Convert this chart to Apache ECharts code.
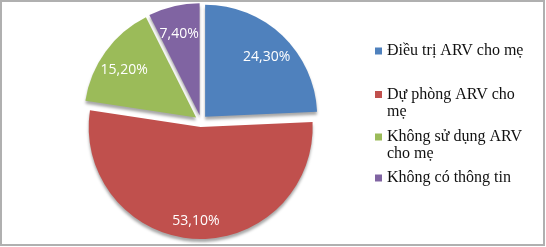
<!DOCTYPE html>
<html>
<head>
<meta charset="utf-8">
<script src="https://cdn.jsdelivr.net/npm/echarts@6/dist/echarts.min.js"></script>
<style>html,body{margin:0;padding:0;background:#fff}#c{width:546px;height:247px}</style>
</head>
<body>
<div id="c"></div>
<script>
const names = ['Điều trị ARV cho mẹ', 'Dự phòng ARV cho mẹ', 'Không sử dụng ARV cho mẹ', 'Không có thông tin'];
const values = [24.3, 53.1, 15.2, 7.4];
const colors = ['#4F81BD', '#C0504D', '#9BBB59', '#8064A2'];

const legendCenters = [51, 94.5, 137, 178];
const legendFont = 16, legendLine = 17, legendWrap = 147;

const ctx = document.createElement('canvas').getContext('2d');
ctx.font = legendFont + 'px "Liberation Serif"';
function wrap(text) {
  const words = text.split(' ');
  const lines = [];
  let cur = '';
  words.forEach(w => {
    const t = cur ? cur + ' ' + w : w;
    if (cur && ctx.measureText(t).width > legendWrap) { lines.push(cur); cur = w; }
    else cur = t;
  });
  lines.push(cur);
  return lines;
}

const chart = echarts.init(document.getElementById('c'), null, {renderer: 'canvas'});
const data = names.map((n, i) => ({name: n, value: values[i], selected: true}));

const legends = names.map((n, i) => {
  const lines = wrap(n);
  const h = 7 + (lines.length - 1) * legendLine;
  return {
    orient: 'vertical', left: 375, top: legendCenters[i] - legendLine / 2,
    padding: 0, itemWidth: 7, itemHeight: h, itemGap: 0, itemTextGap: 5,
    selectedMode: false,
    data: [{name: n, icon: 'path://M0,0H7V7H0Z M0,' + h}],
    formatter: () => lines.join('\n'),
    textStyle: {fontFamily: 'Liberation Serif', fontSize: legendFont, color: '#111', lineHeight: legendLine}
  };
});

const option = {
  animation: false,
  color: colors,
  graphic: [{
    type: 'rect', shape: {x: 1, y: 1, width: 543, height: 244},
    style: {fill: 'none', stroke: '#b0b0b0', lineWidth: 2}, silent: true
  }],
  legend: legends,
  series: [{
    type: 'pie', center: [201, 121], radius: 112, startAngle: 90, clockwise: true,
    selectedMode: 'multiple', selectedOffset: 6,
    label: {show: false}, labelLine: {show: false},
    itemStyle: {shadowColor: 'rgba(0,0,0,0.35)', shadowBlur: 3, shadowOffsetY: 3},
    emphasis: {disabled: true},
    data: data
  }, {
    type: 'pie', center: [201, 126], radius: [59, 113], startAngle: 90, clockwise: true,
    selectedMode: 'multiple', selectedOffset: 6, silent: true, legendHoverLink: false,
    itemStyle: {color: 'rgba(0,0,0,0)'},
    label: {
      show: true, position: 'inside', color: '#fff',
      fontFamily: 'Open Sans', fontSize: 14,
      formatter: p => p.value.toFixed(2).replace('.', ',') + '%'
    },
    labelLine: {show: false},
    emphasis: {disabled: true},
    data: data.map(d => Object.assign({}, d))
  }]
};
chart.setOption(option);
</script>
</body>
</html>
